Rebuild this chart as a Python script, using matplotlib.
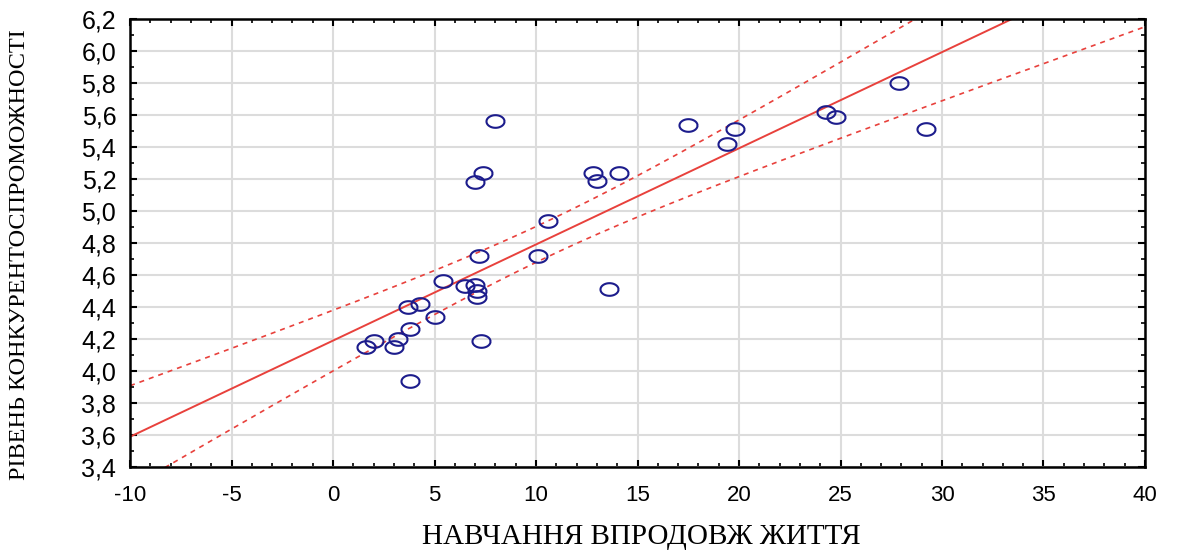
import numpy as np
import matplotlib
matplotlib.use("Agg")
import matplotlib.pyplot as plt
from matplotlib.path import Path
from matplotlib.ticker import MultipleLocator, FuncFormatter

# lifelong learning score (x) vs competitiveness level (y)
learning = [1.6, 2.0, 3.0, 3.2, 3.7, 3.8, 3.8, 4.3, 5.0, 5.4, 6.5, 7.0, 7.1, 7.1,
            7.2, 7.3, 7.0, 7.4, 8.0, 10.1, 10.6, 12.8, 13.0, 13.6, 14.1, 17.5,
            19.4, 19.8, 24.3, 24.8, 27.9, 29.2]
competitiveness = [4.15, 4.19, 4.15, 4.20, 4.40, 3.94, 4.26, 4.42, 4.34, 4.56, 4.53,
                   4.54, 4.50, 4.46, 4.72, 4.19, 5.18, 5.24, 5.56, 4.72, 4.94, 5.24,
                   5.19, 4.51, 5.24, 5.54, 5.42, 5.51, 5.62, 5.59, 5.80, 5.51]

x_label = "НАВЧАННЯ ВПРОДОВЖ ЖИТТЯ"
y_label = "РІВЕНЬ КОНКУРЕНТОСПРОМОЖНОСТІ"
T_975 = 2.042  # student t, 95%, n-2 = 30 df


def fit_line(x, y, grid):
    n = len(x)
    b, a = np.polyfit(x, y, 1)
    resid = y - (a + b * x)
    s = np.sqrt(np.sum(resid ** 2) / (n - 2))
    sxx = np.sum((x - x.mean()) ** 2)
    yhat = a + b * grid
    half = T_975 * s * np.sqrt(1.0 / n + (grid - x.mean()) ** 2 / sxx)
    return yhat, yhat - half, yhat + half


def main():
    x = np.array(learning)
    y = np.array(competitiveness)
    grid = np.linspace(-10, 40, 200)
    yhat, lo, hi = fit_line(x, y, grid)

    fig = plt.figure(figsize=(11.77, 5.55), dpi=100)
    ax = fig.add_axes([0.1105, 0.1586, 0.8623, 0.8072])

    ax.grid(True, which="major", color="#dcdcdc", linewidth=1.5)
    ax.set_axisbelow(True)

    ax.plot(grid, yhat, color="#e8413c", linewidth=1.4)
    ax.plot(grid, lo, color="#e8413c", linewidth=1.2, linestyle=(0, (3, 3)))
    ax.plot(grid, hi, color="#e8413c", linewidth=1.2, linestyle=(0, (3, 3)))

    t = np.linspace(0, 2 * np.pi, 40)
    ellipse = Path(np.column_stack([np.cos(t), 0.7 * np.sin(t)]))
    ax.plot(x, y, linestyle="none", marker=ellipse, markersize=13,
            markerfacecolor="none", markeredgecolor="#1c1c8c", markeredgewidth=1.5)

    ax.set_xlim(-10, 40)
    ax.set_ylim(3.4, 6.2)
    ax.xaxis.set_major_locator(MultipleLocator(5))
    ax.xaxis.set_minor_locator(MultipleLocator(1))
    ax.yaxis.set_major_locator(MultipleLocator(0.2))
    ax.yaxis.set_minor_locator(MultipleLocator(0.1))
    ax.yaxis.set_major_formatter(FuncFormatter(lambda v, p: f"{v:.1f}".replace(".", ",")))
    ax.xaxis.set_major_formatter(FuncFormatter(lambda v, p: f"{v:.0f}"))

    ax.tick_params(which="both", direction="in", top=True, right=True, color="black")
    ax.tick_params(which="major", length=5, width=1.5)
    ax.tick_params(which="minor", length=3, width=1.2)
    ax.tick_params(axis="x", labelsize=16, pad=13)
    ax.tick_params(axis="y", labelsize=18, pad=10)
    for lab in ax.get_xticklabels() + ax.get_yticklabels():
        lab.set_family("Liberation Sans")
    for sp in ax.spines.values():
        sp.set_linewidth(1.8)

    ax.set_xlabel(x_label, family="Liberation Serif", fontsize=21)
    ax.set_ylabel(y_label, family="Liberation Serif", fontsize=17.5)
    ax.xaxis.set_label_coords(0.504, -0.128)
    ax.yaxis.set_label_coords(-0.0985, 0.475)

    fig.savefig("out.png", dpi=100)


if __name__ == "__main__":
    main()
